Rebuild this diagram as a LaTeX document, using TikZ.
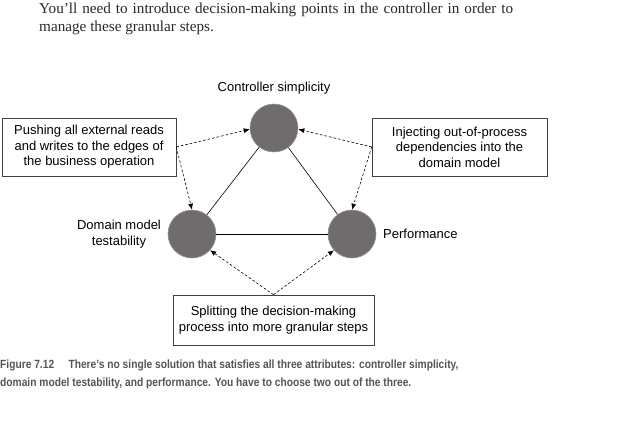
\documentclass[tikz,border=0pt]{standalone}
\usepackage{fontspec}
\setmainfont{Liberation Sans}
\newfontfamily\bodyfont{Liberation Serif}
\newfontfamily\capfont[FakeStretch=0.86]{Liberation Sans}
\usetikzlibrary{arrows.meta}
\definecolor{ballfill}{RGB}{112,108,109}
\definecolor{ballline}{RGB}{150,147,148}
\definecolor{capgray}{RGB}{85,85,85}
\definecolor{bodygray}{RGB}{40,40,40}
\begin{document}
\begin{tikzpicture}[x=1pt,y=-1pt,
  ball/.style={circle,fill=ballfill,draw=ballline,line width=0.6pt,minimum size=48pt,inner sep=0pt},
  lbl/.style={font=\fontsize{13}{15.5}\selectfont,align=center,inner sep=0pt},
  note/.style={draw=black!75,line width=0.6pt,font=\fontsize{13}{15.5}\selectfont,align=center,inner sep=0pt},
  link/.style={line width=0.6pt},
  hint/.style={dashed,dash pattern=on 2.6pt off 2pt,line width=0.6pt,-{Latex[length=6pt,width=5pt]}}
]
\useasboundingbox (0,0) rectangle (620,420);
% body text
\node[anchor=north west,inner sep=0pt,align=left,font=\bodyfont\fontsize{15.2}{18}\selectfont,text=bodygray] (body) at (39,3)
  {\makebox[474pt][s]{You’ll need to introduce decision-making points in the controller in order to}\\manage these granular steps.};
% balls
\node[ball] (ctrl) at (274,128) {};
\node[ball] (dom) at (192,234) {};
\node[ball] (perf) at (352,234) {};
% labels
\node[lbl] (ctrlL) at (274,88) {Controller simplicity};
\node[lbl] (domL) at (119,234) {Domain model\\testability};
\node[lbl,anchor=west] (perfL) at (383,234) {Performance};
% boxes
\node[note,minimum width=174pt,minimum height=58pt] (lbox) at (89,147) {Pushing all external reads\\and writes to the edges of\\the business operation};
\node[note,minimum width=175pt,minimum height=58pt] (rbox) at (459.5,147) {Injecting out-of-process\\dependencies into the\\domain model};
\node[note,minimum width=201pt,minimum height=50pt] (bbox) at (273.5,320) {Splitting the decision-making\\process into more granular steps};
% triangle
\draw[link] (ctrl) -- (dom);
\draw[link] (ctrl) -- (perf);
\draw[link] (dom) -- (perf);
% dashed hints
\draw[hint] (lbox.east) -- (ctrl.183);
\draw[hint] (lbox.east) -- (dom.90);
\draw[hint] (rbox.west) -- (ctrl.-3);
\draw[hint] (rbox.west) -- (perf.90);
\draw[hint] (bbox.north) -- (dom.-42);
\draw[hint] (bbox.north) -- (perf.-138);
% caption
\node[anchor=north west,inner sep=0pt,align=left,font=\capfont\bfseries\fontsize{11.9}{18}\selectfont,text=capgray] (cap) at (0,360)
  {Figure 7.12\hspace{1.2em}There’s no single solution that satisfies all three attributes: controller simplicity,\\domain model testability, and performance. You have to choose two out of the three.};
\end{tikzpicture}
\end{document}
